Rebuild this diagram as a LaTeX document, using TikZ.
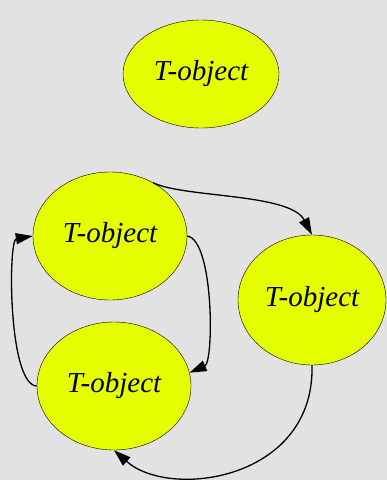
\documentclass[tikz,border=0pt]{standalone}
\usepackage{fontspec}
\setmainfont{Liberation Serif}
\usetikzlibrary{shapes.geometric,arrows.meta}

\definecolor{objyellow}{RGB}{230,255,0}
\definecolor{marble}{RGB}{226,226,226}

\begin{document}
\begin{tikzpicture}[x=1pt,y=-1pt]
   \tikzstyle{every node}=[font=\fontsize{29}{34}\selectfont\itshape]
   \tikzstyle{tobj}=[ellipse, draw=black, fill=objyellow, inner sep=0pt]
   \tikzstyle{link}=[line width=1.3pt, -{Triangle[length=17pt,width=11pt]}]

   % page
   \fill[marble] (0,0) rectangle (387,480);
   \useasboundingbox (0,0) rectangle (387,480);

   \node[tobj, minimum width=156pt, minimum height=108pt] (lone) at (201,74) {T-object};

   \node[tobj, minimum width=154pt, minimum height=128pt] (upper) at (110,236) {T-object};
   \node[tobj, minimum width=154pt, minimum height=128pt] (lower) at (114,386) {T-object};
   \node[tobj, minimum width=148pt, minimum height=130pt] (side) at (312,300) {T-object};

   % loop between the two left ones
   \draw[link] (upper.east) .. controls (214,240) and (214,362) .. (lower.10);
   \draw[link] (lower.west) .. controls (8,385) and (8,240) .. (upper.west);

   % out to the right one and back
   \draw[link] (upper.51) .. controls (185,198) and (290,193) .. (side.north);
   \draw[link] (side.south) .. controls (315,480) and (170,500) .. (lower.south);
\end{tikzpicture}
\end{document}
